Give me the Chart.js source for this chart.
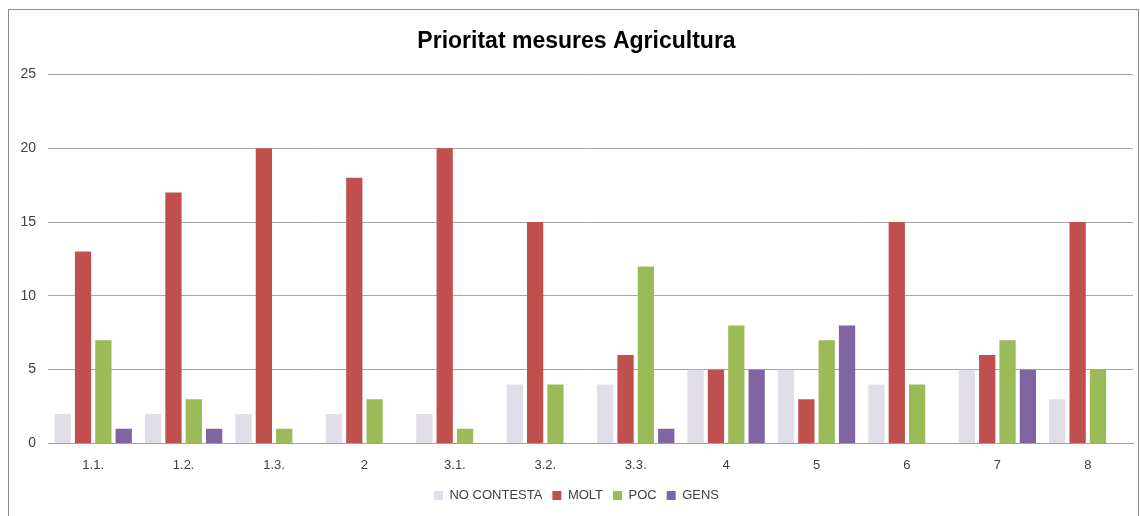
<!DOCTYPE html>
<html>
<head>
<meta charset="utf-8">
<script src="https://cdn.jsdelivr.net/npm/chart.js@4"></script>
<style>
  body { margin: 0; background: #fff; }
  .frame { position: absolute; left: 8px; top: 9px; width: 1131px; height: 510px; border: 1px solid #8c8c8c; box-sizing: border-box; }
  .box { position: absolute; left: 1px; top: 1px; width: 1129px; height: 506px; }
</style>
</head>
<body>
<div class="frame"><div class="box"><canvas id="chart"></canvas></div></div>
<script>
/* Chart data */
const categories = ['1.1.', '1.2.', '1.3.', '2', '3.1.', '3.2.', '3.3.', '4', '5', '6', '7', '8'];
const noContesta = [2, 2, 2, 2, 2, 4, 4, 5, 5, 4, 5, 3];
const molt = [13, 17, 20, 18, 20, 15, 6, 5, 3, 15, 6, 15];
const poc = [7, 3, 1, 3, 1, 4, 12, 8, 7, 4, 7, 5];
const gens = [1, 1, 0, 0, 0, 0, 1, 5, 8, 0, 5, 0];
const yTicks = [0, 5, 10, 15, 20, 25];

const font = 'Liberation Sans, Arial, sans-serif';
const ctx = document.getElementById('chart').getContext('2d');
const chart = new Chart(ctx, {
    type: 'bar',
    data: {
        labels: categories,
        datasets: [
            { label: 'NO CONTESTA', data: noContesta, backgroundColor: '#e1dde9' },
            { label: 'MOLT', data: molt, backgroundColor: '#c0504d' },
            { label: 'POC', data: poc, backgroundColor: '#9bbb59' },
            { label: 'GENS', data: gens, backgroundColor: '#8064a2' }
        ]
    },
    options: {
        responsive: true,
        maintainAspectRatio: false,
        animation: false,
        layout: { padding: { left: 10, right: 6, top: 17, bottom: 5 } },
        datasets: { bar: { categoryPercentage: 0.9, barPercentage: 0.8 } },
        plugins: {
            title: {
                display: true,
                text: 'Prioritat mesures Agricultura',
                color: '#000',
                font: { family: font, size: 23, weight: 'bold' },
                padding: { top: 0, bottom: 19 }
            },
            legend: {
                position: 'bottom',
                labels: {
                    boxWidth: 9,
                    boxHeight: 9,
                    padding: 10,
                    color: '#404040',
                    font: { family: font, size: 13 }
                }
            },
            tooltip: { enabled: false }
        },
        scales: {
            x: {
                grid: { display: false },
                border: { color: '#a0a0a0' },
                ticks: { color: '#404040', font: { family: font, size: 13 }, padding: 6 }
            },
            y: {
                min: 0,
                max: 25,
                afterBuildTicks: function(scale) {
                    scale.ticks = yTicks.map(function(v) { return { value: v }; });
                },
                afterFit: function(scale) { scale.width = 28; },
                grid: { color: '#a6a6a6', drawTicks: false },
                border: { display: false },
                ticks: { color: '#404040', font: { family: font, size: 14 }, padding: 12 }
            }
        }
    }
});
</script>
</body>
</html>
